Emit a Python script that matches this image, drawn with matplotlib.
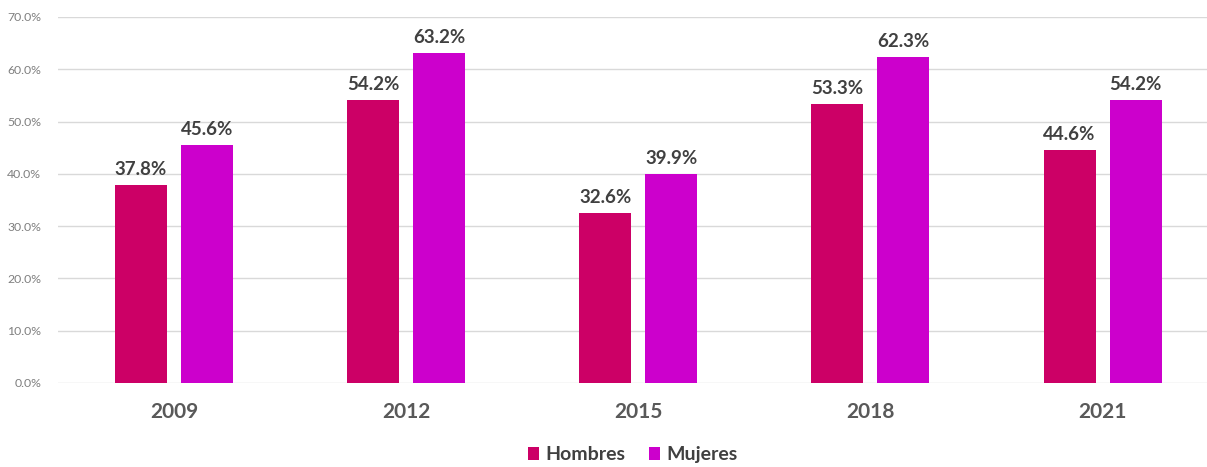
import matplotlib.pyplot as plt
import numpy as np

years = ['2009', '2012', '2015', '2018', '2021']
hombres = [37.8, 54.2, 32.6, 53.3, 44.6]
mujeres = [45.6, 63.2, 39.9, 62.3, 54.2]

plt.rcParams['font.family'] = ['Lato', 'DejaVu Sans']

fig = plt.figure(figsize=(12.07, 4.67), dpi=100)
ax = fig.add_axes([0.048, 0.18, 0.952, 0.7836])

x = np.arange(len(years))
w = 0.224
b1 = ax.bar(x - 0.142, hombres, w, color='#CC0066', label='Hombres', zorder=3)
b2 = ax.bar(x + 0.142, mujeres, w, color='#CC00CC', label='Mujeres', zorder=3)

for bars, vals in [(b1, hombres), (b2, mujeres)]:
    for r, v in zip(bars, vals):
        ax.annotate(f'{v:.1f}%', (r.get_x() + r.get_width() / 2, v),
                    xytext=(0, 5), textcoords='offset points',
                    ha='center', va='bottom', fontsize=13.5, fontweight='bold',
                    color='#404040')

ax.set_xlim(-0.5, 4.45)
ax.set_ylim(0, 70)
ax.set_yticks(range(0, 71, 10))
ax.set_yticklabels([f'{t:.1f}%' for t in range(0, 71, 10)], fontsize=8.8, color='#7f7f7f')
ax.set_xticks(x)
ax.set_xticklabels(years, fontsize=15, fontweight='bold', color='#595959')
ax.tick_params(axis='both', length=0)
ax.tick_params(axis='x', pad=14)
ax.tick_params(axis='y', pad=12)
ax.grid(axis='y', color='#d9d9d9', linewidth=1, zorder=0)
for s in ax.spines.values():
    s.set_visible(False)

ax.legend(loc='upper center', bbox_to_anchor=(0.5, -0.125), ncol=2, frameon=False,
          prop={'size': 14, 'weight': 'bold'}, handlelength=0.6, handleheight=0.6,
          handletextpad=0.3, columnspacing=1.2, labelcolor='#404040')

fig.savefig('out.png', dpi=100)
